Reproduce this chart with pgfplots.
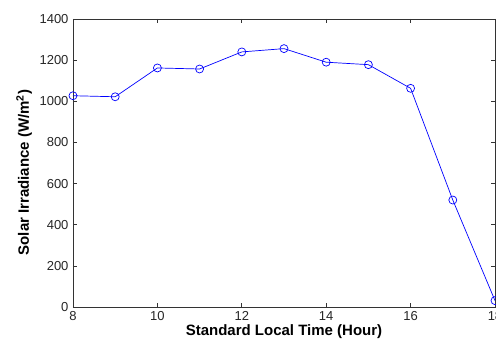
\documentclass[border=0pt]{standalone}
\usepackage{fontspec}
\setmainfont{Liberation Sans}
\usepackage{pgfplots}
\pgfplotsset{compat=1.18}
\begin{document}
\begin{tikzpicture}
\begin{axis}[
  scale only axis,
  width=422pt, height=288pt,
  xmin=8, xmax=18, ymin=0, ymax=1400,
  xtick={8,10,...,18}, ytick={0,200,...,1400},
  tick align=inside,
  major tick length=4pt,
  axis line style={black!80, line width=0.8pt},
  tick style={black!80, line width=0.6pt},
  /pgf/number format/assume math mode=true,
  /pgf/number format/1000 sep={},
  ticklabel style={font=\fontsize{13}{13}\selectfont, text=black!85},
  xticklabel style={yshift=-1pt},
  yticklabel style={xshift=-1pt},
  xlabel={\textbf{Standard Local Time (Hour)}},
  ylabel={\textbf{Solar Irradiance (W/m\textsuperscript{2})}},
  label style={font=\fontsize{15}{15}\selectfont},
  xlabel style={at={(axis description cs:0.5,-0.087)}, anchor=center},
  ylabel style={at={(axis description cs:-0.116,0.467)}, anchor=center},
  clip=false,
]
\addplot[blue, line width=0.7pt, mark=o, mark size=4pt, mark options={line width=0.7pt}]
coordinates {
(8,1027) (9,1022) (10,1162) (11,1157) (12,1240) (13,1256) (14,1190) (15,1178) (16,1063) (17,520) (18,31)
};
\end{axis}
\pgfresetboundingbox
\path[use as bounding box] ([shift={(-73pt,-33pt)}]current axis.south west) rectangle ([shift={(1pt,19pt)}]current axis.north east);
\end{tikzpicture}
\end{document}
